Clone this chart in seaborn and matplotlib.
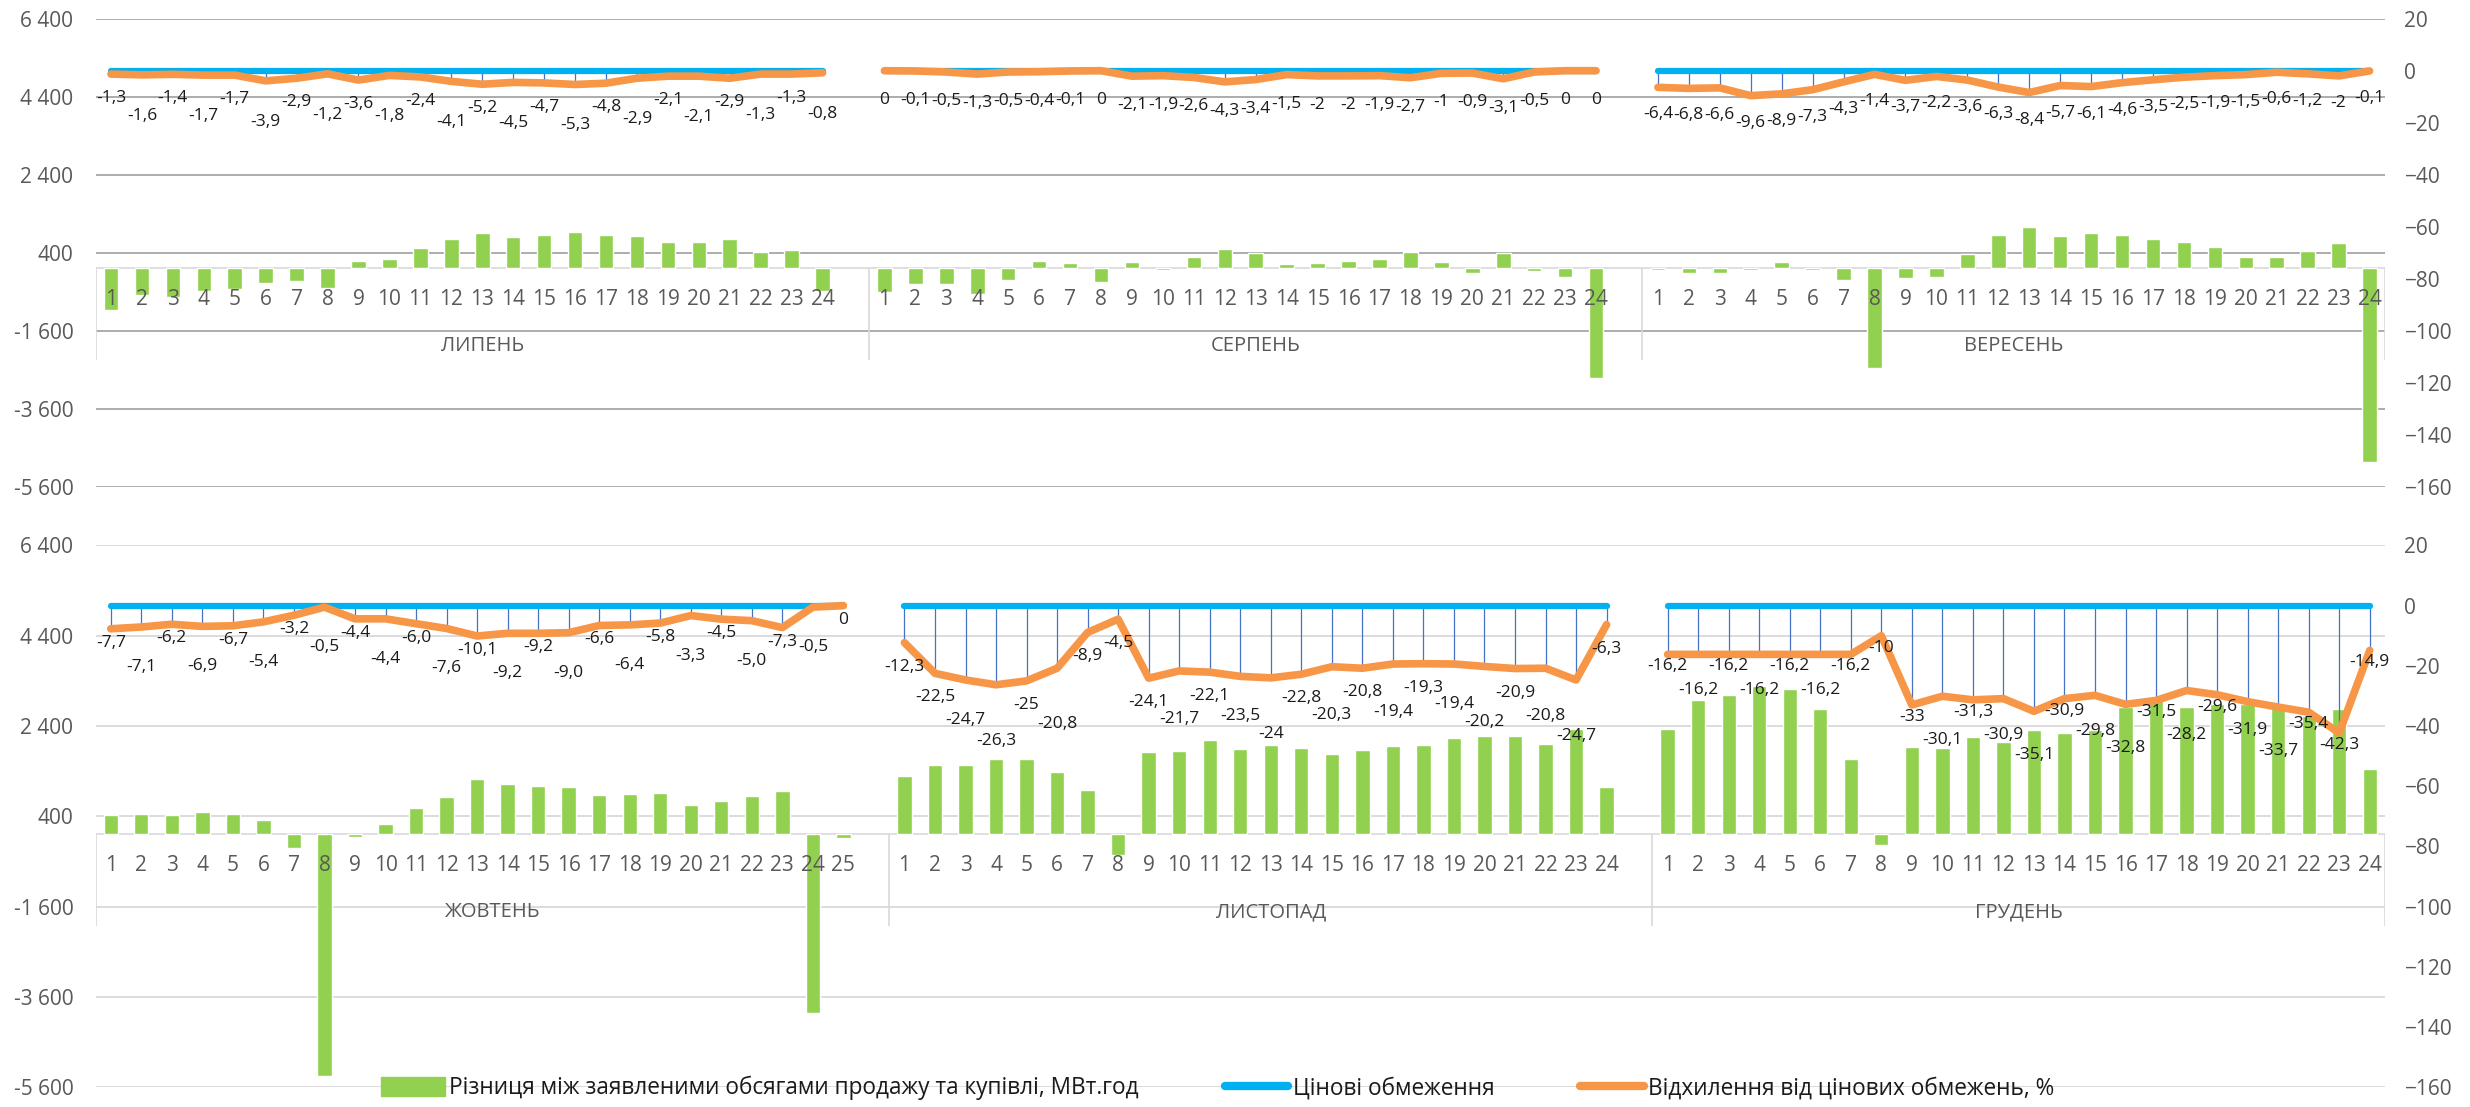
import matplotlib
matplotlib.use("Agg")
import matplotlib.pyplot as plt
from matplotlib.patches import Patch
from matplotlib.lines import Line2D
import pandas as pd
import seaborn as sns

# ---- values ----
months_top = ["ЛИПЕНЬ", "СЕРПЕНЬ", "ВЕРЕСЕНЬ"]
months_bottom = ["ЖОВТЕНЬ", "ЛИСТОПАД", "ГРУДЕНЬ"]

# difference between declared sale and purchase volumes, MWh (one value per hour)
diff_jul = [-1070, -690, -740, -580, -530, -370, -320, -500, 190, 250, 520, 740,
            900, 800, 860, 920, 850, 820, 670, 680, 750, 410, 480, -580]
diff_aug = [-600, -390, -410, -670, -300, 190, 130, -360, 150, -40, 300, 490,
            380, 110, 130, 200, 240, 410, 160, -130, 380, -60, -230, -2820]
diff_sep = [-40, -120, -110, -40, 150, -40, -300, -2560, -260, -220, 370, 850,
            1070, 830, 910, 850, 740, 680, 550, 300, 300, 450, 640, -4970]
diff_oct = [420, 460, 420, 490, 460, 310, -300, -5340, -60, 220, 580, 820, 1220,
            1110, 1070, 1040, 870, 900, 920, 650, 750, 840, 970, -3960, -80]
diff_nov = [1290, 1540, 1540, 1660, 1660, 1390, 990, -450, 1820, 1850, 2080, 1890,
            1980, 1910, 1790, 1860, 1950, 1990, 2130, 2190, 2170, 2010, 2340, 1060]
diff_dec = [2340, 2970, 3090, 3290, 3210, 2770, 1660, -240, 1930, 1910, 2160, 2050,
            2320, 2250, 2310, 2820, 2970, 2820, 2890, 2890, 2820, 2620, 2780, 1440]

# deviation from price caps, % (as printed on the chart)
dev_jul = ["-1,3", "-1,6", "-1,4", "-1,7", "-1,7", "-3,9", "-2,9", "-1,2", "-3,6", "-1,8", "-2,4", "-4,1",
           "-5,2", "-4,5", "-4,7", "-5,3", "-4,8", "-2,9", "-2,1", "-2,1", "-2,9", "-1,3", "-1,3", "-0,8"]
dev_aug = ["0", "-0,1", "-0,5", "-1,3", "-0,5", "-0,4", "-0,1", "0", "-2,1", "-1,9", "-2,6", "-4,3",
           "-3,4", "-1,5", "-2", "-2", "-1,9", "-2,7", "-1", "-0,9", "-3,1", "-0,5", "0", "0"]
dev_sep = ["-6,4", "-6,8", "-6,6", "-9,6", "-8,9", "-7,3", "-4,3", "-1,4", "-3,7", "-2,2", "-3,6", "-6,3",
           "-8,4", "-5,7", "-6,1", "-4,6", "-3,5", "-2,5", "-1,9", "-1,5", "-0,6", "-1,2", "-2", "-0,1"]
dev_oct = ["-7,7", "-7,1", "-6,2", "-6,9", "-6,7", "-5,4", "-3,2", "-0,5", "-4,4", "-4,4", "-6,0", "-7,6",
           "-10,1", "-9,2", "-9,2", "-9,0", "-6,6", "-6,4", "-5,8", "-3,3", "-4,5", "-5,0", "-7,3", "-0,5", "0"]
dev_nov = ["-12,3", "-22,5", "-24,7", "-26,3", "-25", "-20,8", "-8,9", "-4,5", "-24,1", "-21,7", "-22,1", "-23,5",
           "-24", "-22,8", "-20,3", "-20,8", "-19,4", "-19,3", "-19,4", "-20,2", "-20,9", "-20,8", "-24,7", "-6,3"]
dev_dec = ["-16,2", "-16,2", "-16,2", "-16,2", "-16,2", "-16,2", "-16,2", "-10", "-33", "-30,1", "-31,3", "-30,9",
           "-35,1", "-30,9", "-29,8", "-32,8", "-31,5", "-28,2", "-29,6", "-31,9", "-33,7", "-35,4", "-42,3", "-14,9"]

price_cap = 0  # the price-cap series sits at 0 % for every hour

legend_labels = ["Різниця між заявленими обсягами продажу та купівлі, МВт.год",
                 "Цінові обмеження",
                 "Відхилення від цінових обмежень, %"]

GREEN = "#92D050"
BLUE = "#00B0F0"
ORANGE = "#F79646"
DROP = "#4472C4"
GREY_TXT = "#595959"

sns.set_style("white")
plt.rcParams["font.family"] = ["Open Sans", "DejaVu Sans"]

W, H = 2470, 1107
fig = plt.figure(figsize=(W / 100, H / 100), dpi=100)
renderer = fig.canvas.get_renderer()


def build_frame(months, diffs, devs):
    rows = []
    pos = 0
    starts = []
    for name, d, v in zip(months, diffs, devs):
        starts.append(pos)
        for h, (dd, vv) in enumerate(zip(d, v)):
            rows.append(dict(month=name, hour=h + 1, pos=pos, diff=dd, label=vv,
                             dev=float(vv.replace(",", "."))))
            pos += 1
        pos += 1  # empty slot after each month
    return pd.DataFrame(rows), starts, pos - 1.5


def place_labels(ax2, sub, style):
    mode = style[0]
    prev = None
    for k, (_, r) in enumerate(sub.iterrows()):
        if mode == "alt":
            _, base, extra, phase = style
            off = base + (extra if k % 2 == phase else 0)
        else:
            _, base, step = style
            off = base
        ann = ax2.annotate(r["label"], (r["pos"], r["dev"]), xytext=(0, -off),
                           textcoords="offset pixels", ha="center", va="center",
                           fontsize=12.5, color="#1a1a1a", zorder=5)
        if mode == "auto":
            for _ in range(6):
                bb = ann.get_window_extent(renderer)
                if prev is None or not bb.overlaps(prev):
                    break
                off += step
                ann.xyann = (0, -off)
        prev = ann.get_window_extent(renderer)


def draw_panel(rect, months, diffs, devs, label_styles, grid_color):
    ax = fig.add_axes(rect)
    df, starts, xmax = build_frame(months, diffs, devs)
    h_px = rect[3] * H
    vpp = 12000 / h_px

    sns.barplot(data=df, x="pos", y="diff", native_scale=True, color=GREEN, saturation=1,
                width=0.47, errorbar=None, ax=ax, zorder=2)
    ax.set_ylim(-5600, 6400)
    ax.set_xlim(-0.5, xmax)
    ticks = list(range(-5600, 6401, 2000))
    ax.set_yticks(ticks)
    ax.set_yticklabels([f"{t:,}".replace(",", " ") for t in ticks])
    ax.yaxis.grid(True, color=grid_color, lw=1.3)
    ax.xaxis.grid(False)
    ax.set_axisbelow(True)
    ax.set_xticks([])
    ax.set_xlabel("")
    ax.set_ylabel("")
    ax.tick_params(axis="y", length=0, pad=16, labelsize=15, labelcolor=GREY_TXT)
    for s in ax.spines.values():
        s.set_visible(False)

    # multi-level category axis
    ax.axhline(0, color="#D9D9D9", lw=1.2, zorder=1)
    seps = [-0.5] + [s - 0.5 for s in starts[1:]] + [xmax]
    ax.vlines(seps, -92 * vpp, 0, color="#D9D9D9", lw=1.2, zorder=1)
    for _, r in df.iterrows():
        ax.text(r["pos"], -31 * vpp, str(r["hour"]), ha="center", va="center",
                fontsize=15, color=GREY_TXT, zorder=3)
    for i, name in enumerate(months):
        x0 = starts[i] - 0.5
        x1 = seps[i + 1]
        ax.text((x0 + x1) / 2, -78 * vpp, name, ha="center", va="center",
                fontsize=14.5, color=GREY_TXT, zorder=3)

    ax2 = ax.twinx()
    ax2.set_ylim(-160, 20)
    for i, name in enumerate(months):
        sub = df[df["month"] == name]
        ax2.vlines(sub["pos"], sub["dev"], price_cap, color=DROP, lw=0.9, zorder=2)
        sns.lineplot(x=sub["pos"], y=[price_cap] * len(sub), ax=ax2, color=BLUE, lw=4.5,
                     solid_capstyle="round", zorder=3)
        sns.lineplot(x=sub["pos"], y=sub["dev"], ax=ax2, color=ORANGE, lw=5.5,
                     solid_capstyle="round", solid_joinstyle="round", zorder=4)
    ax2.set_ylim(-160, 20)
    ax.set_xlim(-0.5, xmax)
    ax2.set_yticks(range(-160, 21, 20))
    ax2.set_ylabel("")
    ax2.set_xlabel("")
    ax2.tick_params(axis="y", length=0, pad=14, labelsize=15, labelcolor=GREY_TXT)
    for s in ax2.spines.values():
        s.set_visible(False)
    for i, name in enumerate(months):
        place_labels(ax2, df[df["month"] == name], label_styles[i])
    return ax


left = 95.5 / W
width = (2385 - 95.5) / W
draw_panel([left, (H - 486.7) / H, width, 468 / H], months_top,
           [diff_jul, diff_aug, diff_sep], [dev_jul, dev_aug, dev_sep],
           [("alt", 24, 17, 1), ("alt", 29, 0, 0), ("alt", 27, 0, 0)], "#A6A6A6")
draw_panel([left, (H - 1087.3) / H, width, 541.9 / H], months_bottom,
           [diff_oct, diff_nov, diff_dec], [dev_oct, dev_nov, dev_dec],
           [("alt", 14, 26, 1), ("auto", 24, 8), ("auto", 12, 8)], "#D9D9D9")

handles = [Patch(facecolor=GREEN, edgecolor=GREEN),
           Line2D([], [], color=BLUE, lw=6, solid_capstyle="round"),
           Line2D([], [], color=ORANGE, lw=6, solid_capstyle="round")]
fig.legend(handles, legend_labels, loc="center", bbox_to_anchor=(1218 / W, 1 - 1088 / H),
           ncol=3, frameon=False, fontsize=16.3, handlelength=2.8, handleheight=0.9,
           columnspacing=3.8, handletextpad=0.2, labelcolor="#1a1a1a")

fig.savefig("out.png", dpi=100)
